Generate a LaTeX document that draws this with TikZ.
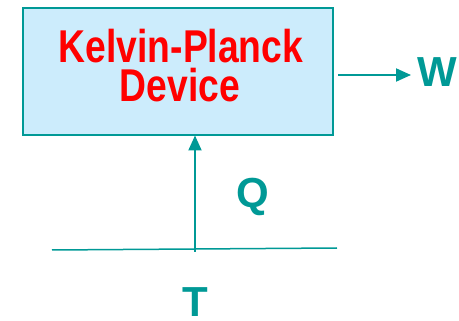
\documentclass[tikz,border=0pt]{standalone}
\usepackage{fontspec}
\setmainfont{Liberation Sans}
\newfontfamily\narrowsans[FakeStretch=0.81]{Liberation Sans}
\usetikzlibrary{arrows.meta}
\definecolor{teal1}{RGB}{0,153,150}
\definecolor{boxfill}{RGB}{204,236,252}
\definecolor{kpred}{RGB}{255,0,0}
\tikzset{
  devicebox/.style={draw=teal1, line width=2pt, fill=boxfill},
  redlabel/.style={text=kpred, font=\narrowsans\bfseries\fontsize{46}{46}\selectfont, inner sep=0pt, anchor=base},
  teallabel/.style={text=teal1, font=\bfseries\fontsize{42}{42}\selectfont, inner sep=0pt},
  flow/.style={draw=teal1, line width=2pt, -{Triangle[length=15pt, width=13pt]}},
}
\begin{document}
\begin{tikzpicture}[x=1pt, y=-1pt]
  \useasboundingbox (0,0) rectangle (459,321);
  % the device
  \draw[devicebox] (23,8) rectangle (333,135.5);
  \coordinate (boxbottom) at (195,135.5);
  \coordinate (boxright) at (338,75);
  \node[redlabel] (kp) at (181,63) {Kelvin-Planck};
  \node[redlabel] (dev) at (180,102) {Device};
  % work output
  \coordinate (wtip) at (411,75);
  \draw[flow] (boxright) -- (wtip);
  \node[teallabel, anchor=base west] (w) at (417,87) {W};
  % reservoir line and heat input
  \coordinate (resleft) at (52,250);
  \coordinate (resright) at (337,248);
  \draw[draw=teal1, line width=1.5pt] (resleft) -- (resright);
  \coordinate (qstart) at (195,252);
  \draw[flow] (qstart) -- (boxbottom);
  \node[teallabel, anchor=base west] (q) at (236,208) {Q};
  \node[teallabel, anchor=base] (t) at (195,317) {T};
\end{tikzpicture}
\end{document}
